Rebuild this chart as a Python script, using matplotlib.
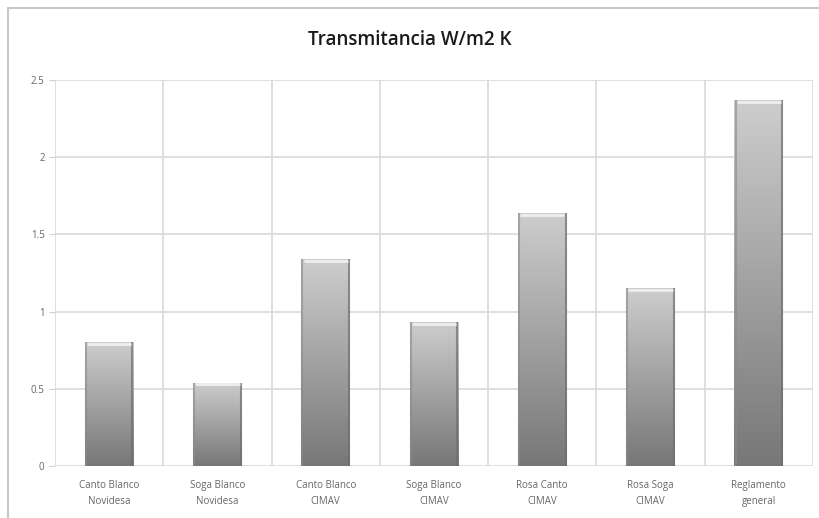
import matplotlib
matplotlib.use("Agg")
import matplotlib.pyplot as plt
import numpy as np
from matplotlib.patches import Rectangle

# data
categories = ["Canto Blanco\nNovidesa", "Soga Blanco\nNovidesa", "Canto Blanco\nCIMAV",
              "Soga Blanco\nCIMAV", "Rosa Canto\nCIMAV", "Rosa Soga\nCIMAV", "Reglamento\ngeneral"]
values = [0.80, 0.54, 1.34, 0.93, 1.64, 1.15, 2.37]
yticks = [0, 0.5, 1, 1.5, 2, 2.5]
ytick_labels = ["0", "0.5", "1", "1.5", "2", "2.5"]

plt.rcParams['font.family'] = ['Open Sans', 'DejaVu Sans']

fig = plt.figure(figsize=(8.19, 5.18), dpi=100)
# outer chart border
fig.patches.append(Rectangle((8 / 819, -0.01), 1.0, 1 - 8 / 518 + 0.01, transform=fig.transFigure,
                             fill=False, ec="#c8c8c8", lw=1.5))
ax = fig.add_axes([55 / 819, 52 / 518, 758 / 819, 386 / 518])

n = len(categories)
x = np.arange(n)

# grid lines
for y in yticks:
    ax.axhline(y, color="#d9d9d9", lw=1.2, zorder=0)
for b in np.arange(n + 1) - 0.5:
    ax.axvline(b, color="#d9d9d9", lw=1.2, zorder=0)

# gradient bars
grad = np.linspace(0, 1, 256).reshape(-1, 1)
cmap = matplotlib.colors.LinearSegmentedColormap.from_list("g", ["#777777", "#cdcdcd"])
w = 0.45
bars = ax.bar(x, values, width=w, color="none", edgecolor="none", zorder=2)
for rect, v in zip(bars, values):
    x0 = rect.get_x()
    im = ax.imshow(grad, extent=[x0, x0 + w, 0, v], origin="lower", cmap=cmap,
                   aspect="auto", zorder=2, interpolation="bilinear")
    im.set_clip_path(rect)
    # darker side edges and light top
    ax.plot([x0 + 0.01, x0 + 0.01], [0, v], color="#8a8a8a", lw=1.5, alpha=0.6, zorder=3,
            solid_capstyle="butt")
    ax.plot([x0 + w - 0.01, x0 + w - 0.01], [0, v], color="#6e6e6e", lw=1.5, alpha=0.7, zorder=3,
            solid_capstyle="butt")
    ax.plot([x0 + 0.02, x0 + w - 0.02], [v - 0.012, v - 0.012], color="#eeeeee", lw=2, zorder=3,
            solid_capstyle="butt")
ax.set_xlim(-0.5, n - 0.5)
ax.set_ylim(0, 2.5)

for s in ax.spines.values():
    s.set_visible(False)
ax.set_yticks(yticks)
ax.set_yticklabels(ytick_labels)
ax.set_xticks(x)
ax.set_xticklabels(categories, linespacing=1.6)
ax.tick_params(axis="y", colors="#d0d0d0", labelcolor="#666666", labelsize=7, length=4)
ax.tick_params(axis="x", length=0, labelcolor="#666666", labelsize=7, pad=10)

fig.text(0.5, 0.923, "Transmitancia W/m2 K", ha="center", va="center", fontsize=13.5,
         fontweight="semibold", color="#1a1a1a")

fig.savefig("out.png", dpi=100)
